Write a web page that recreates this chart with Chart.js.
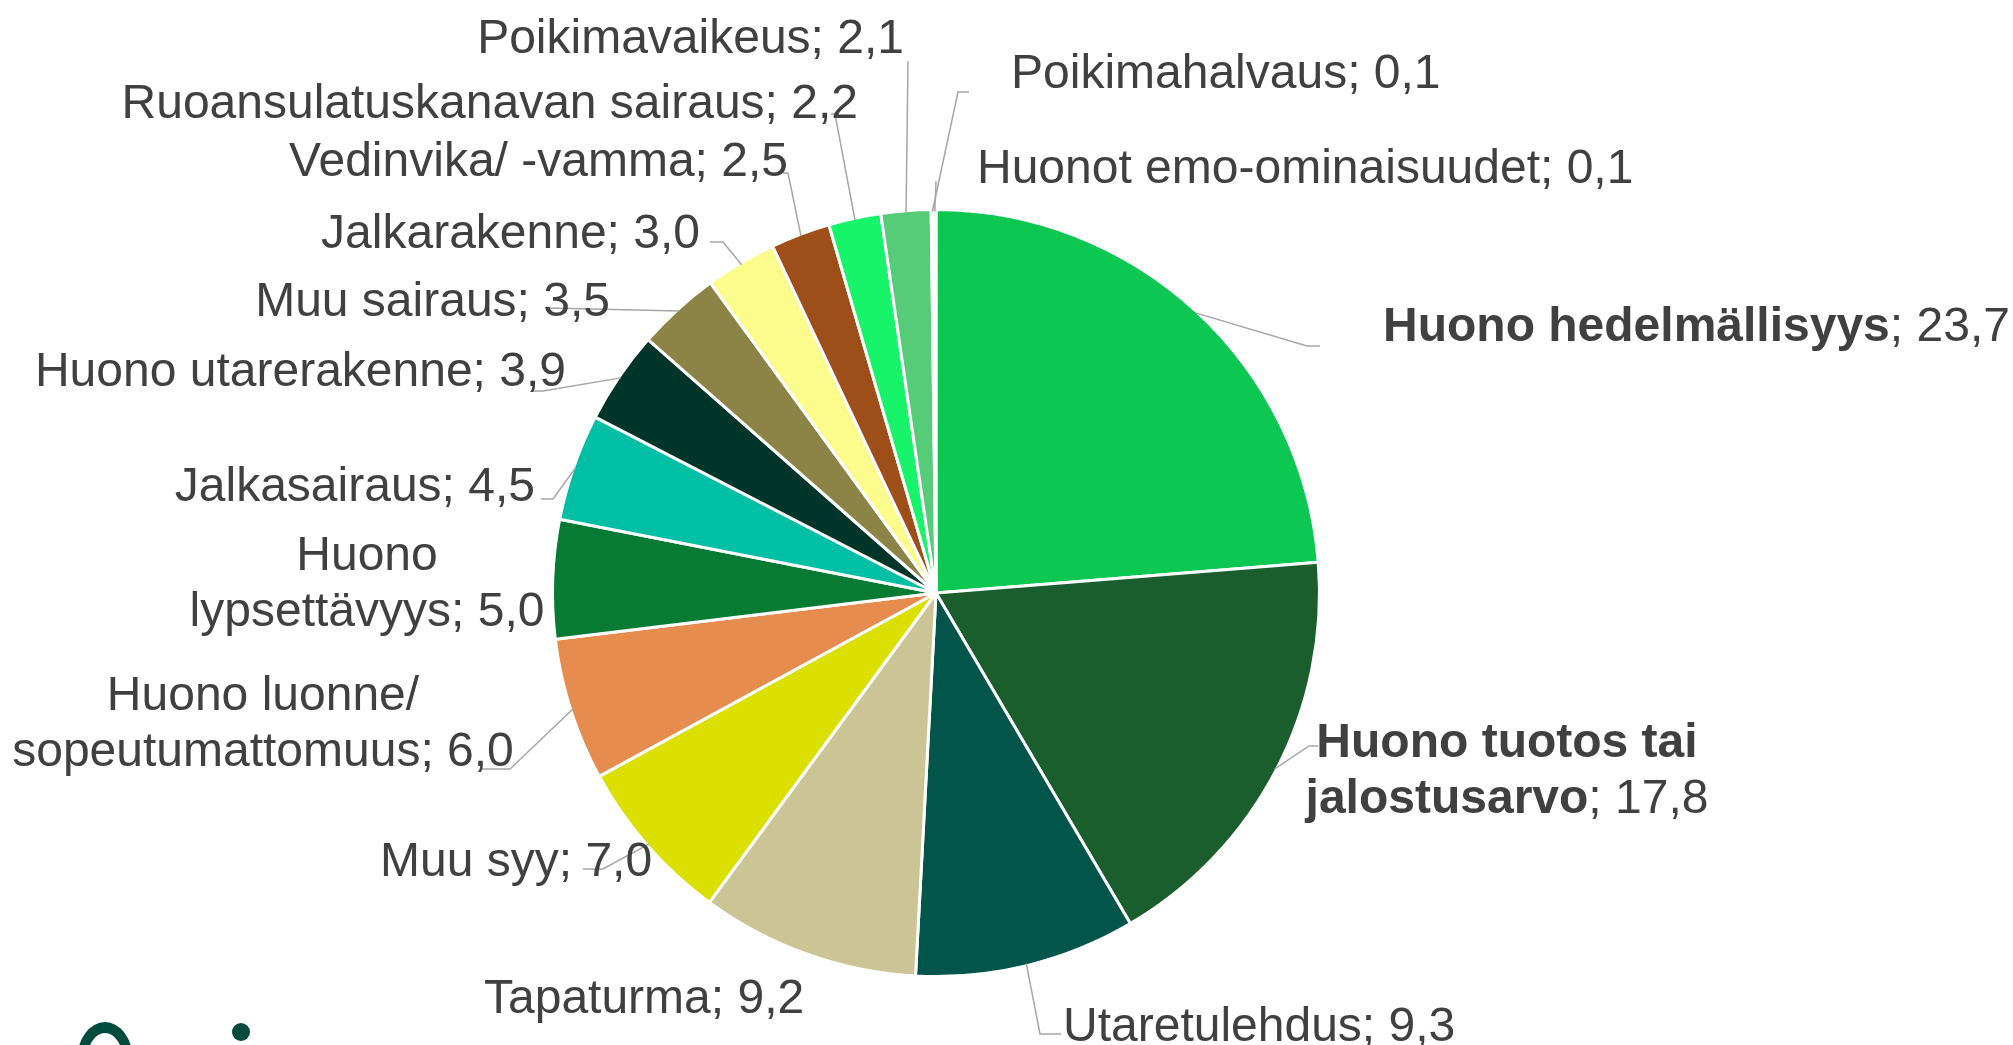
<!DOCTYPE html>
<html>
<head>
<meta charset="utf-8">
<script src="https://cdn.jsdelivr.net/npm/chart.js@4/dist/chart.umd.min.js"></script>
<style>
  body { margin: 0; background: #fff; }
  canvas { display: block; }
</style>
</head>
<body>
<canvas id="poistot" width="2013" height="1045"></canvas>
<script>
// poistosyyt, %
const categories = [
  'Huono hedelmällisyys',
  'Huono tuotos tai jalostusarvo',
  'Utaretulehdus',
  'Tapaturma',
  'Muu syy',
  'Huono luonne/ sopeutumattomuus',
  'Huono lypsettävyys',
  'Jalkasairaus',
  'Huono utarerakenne',
  'Muu sairaus',
  'Jalkarakenne',
  'Vedinvika/ -vamma',
  'Ruoansulatuskanavan sairaus',
  'Poikimavaikeus',
  'Poikimahalvaus',
  'Huonot emo-ominaisuudet',
]
const values = [23.7, 17.8, 9.3, 9.2, 7.0, 6.0, 5.0, 4.5, 3.9, 3.5, 3.0, 2.5, 2.2, 2.1, 0.1, 0.1]
const boldNames = [0, 1]

const colors = [
  '#0cc752', '#1b5e2e', '#02554a', '#cbc595', '#dce000', '#e58c4e', '#077a34', '#00bfa5',
  '#00352a', '#8c8446', '#fcfc8c', '#9e4e18', '#18f46a', '#56cb78', '#7fd98c', '#a4e0b0',
]

// label placement, px from pie centre: [dx, dy, align, words on first line, leader points]
const labelLayout = [
  [447, -265, 'left', 0, [[371, -247], [384, -247]]],
  [571, 179, 'center', 3, [[373, 153], [382, 153]]],
  [127, 435, 'left', 0, [[104, 441], [125, 441]]],
  [-452, 407, 'left', 0, []],
  [-556, 270, 'left', 0, [[-333, 276], [-353, 276]]],
  [-673, 132, 'center', 2, [[-426, 176], [-454, 176]]],
  [-569, -8, 'center', 1, []],
  [-401, -105, 'right', 0, [[-383, -94], [-395, -94]]],
  [-370, -220, 'right', 0, [[-393, -202], [-403, -202]]],
  [-326, -290, 'right', 0, [[-388, -285]]],
  [-236, -358, 'right', 0, [[-213, -351], [-226, -351]]],
  [-148, -430, 'right', 0, [[-148, -420], [-153, -420]]],
  [-78, -488, 'right', 0, [[-101, -479], [-105, -479]]],
  [-32, -553, 'right', 0, [[-28, -532]]],
  [75, -518, 'left', 0, [[22, -501], [33, -501]]],
  [41, -423, 'left', 0, [[0, -412]]],
]

const FONT = '"Liberation Sans", Arial, sans-serif'
const SIZE = 48
const LINE = 56

function fmt(v) {
  return v.toFixed(1).replace('.', ',')
}

const pieLabels = {
  id: 'pieLabels',
  afterDatasetsDraw(chart) {
    const ctx = chart.ctx
    const meta = chart.getDatasetMeta(0)
    ctx.save()
    meta.data.forEach((arc, i) => {
      const p = arc.getProps(['x', 'y', 'startAngle', 'endAngle', 'outerRadius'], true)
      const mid = (p.startAngle + p.endAngle) / 2
      const [dx, dy, align, wrap, leader] = labelLayout[i]

      // leader line
      if (leader.length) {
        ctx.strokeStyle = '#a6a6a6'
        ctx.lineWidth = 1.5
        ctx.beginPath()
        ctx.moveTo(p.x + Math.cos(mid) * (p.outerRadius - 2), p.y + Math.sin(mid) * (p.outerRadius - 2))
        leader.forEach(([lx, ly]) => ctx.lineTo(p.x + lx, p.y + ly))
        ctx.stroke()
      }

      // text, name may be bold and split in lines
      const words = categories[i].split(' ')
      const bold = boldNames.includes(i)
      let lines
      if (wrap > 0) {
        lines = [[words.slice(0, wrap).join(' '), ''], [words.slice(wrap).join(' '), '; ' + fmt(values[i])]]
      } else {
        lines = [[categories[i], '; ' + fmt(values[i])]]
      }
      const top = p.y + dy - (lines.length - 1) * LINE / 2
      ctx.fillStyle = '#404040'
      ctx.textBaseline = 'middle'
      ctx.textAlign = 'left'
      lines.forEach(([name, rest], j) => {
        const nameFont = (bold ? 'bold ' : '') + SIZE + 'px ' + FONT
        const restFont = SIZE + 'px ' + FONT
        ctx.font = nameFont
        const w1 = ctx.measureText(name).width
        ctx.font = restFont
        const w2 = ctx.measureText(rest).width
        let x = p.x + dx
        if (align === 'center') x -= (w1 + w2) / 2
        if (align === 'right') x -= w1 + w2
        const y = top + j * LINE
        ctx.font = nameFont
        ctx.fillText(name, x, y)
        ctx.font = restFont
        ctx.fillText(rest, x + w1, y)
      })
    })
    ctx.restore()
  },
}

// piece of the logo peeking in at the bottom left corner
const logo = {
  id: 'logo',
  afterDraw(chart) {
    const ctx = chart.ctx
    ctx.save()
    ctx.fillStyle = '#004b3c'
    ctx.beginPath()
    ctx.ellipse(105, 1060, 28, 38, 0, 0, Math.PI * 2)
    ctx.ellipse(105, 1060, 18, 27, 0, 0, Math.PI * 2, true)
    ctx.fill()
    ctx.beginPath()
    ctx.arc(241, 1032, 9, 0, Math.PI * 2)
    ctx.fill()
    ctx.restore()
  },
}

new Chart(document.getElementById('poistot'), {
  type: 'pie',
  data: {
    labels: categories,
    datasets: [{
      data: values,
      backgroundColor: colors,
      borderColor: '#ffffff',
      borderWidth: 3,
    }],
  },
  options: {
    responsive: false,
    animation: false,
    devicePixelRatio: 1,
    layout: {
      padding: { top: 208, bottom: 67, left: 551, right: 692 },
    },
    plugins: {
      legend: { display: false },
      tooltip: { enabled: false },
    },
  },
  plugins: [pieLabels, logo],
})
</script>
</body>
</html>
